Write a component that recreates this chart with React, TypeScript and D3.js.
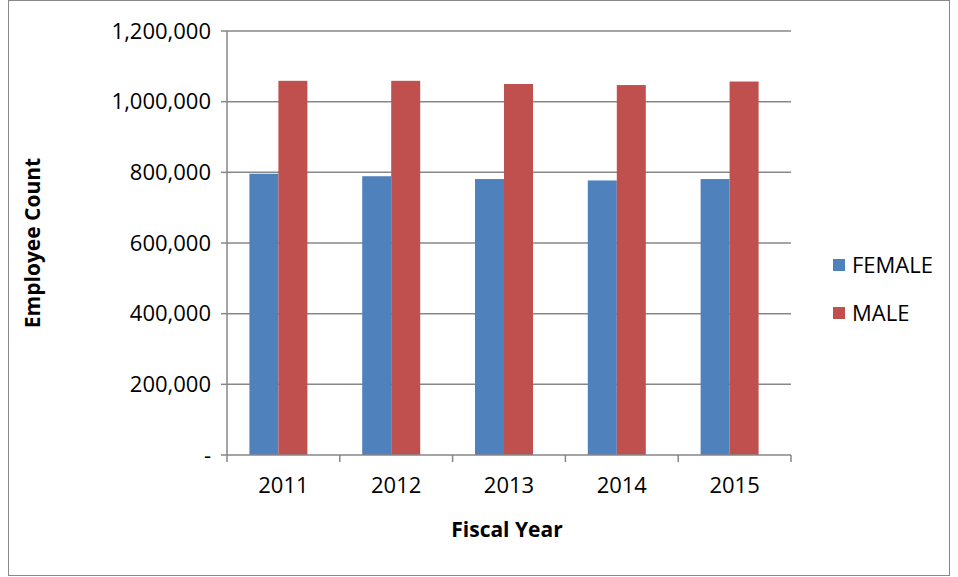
import React from "react";
import * as d3 from "d3";

const years = ["2011", "2012", "2013", "2014", "2015"];
const female = [796000, 789000, 781000, 777000, 781000];
const male = [1059000, 1059000, 1050000, 1047000, 1057000];
const seriesNames = ["FEMALE", "MALE"];
const colors = ["#4f81bd", "#c0504d"];
const yTicks = [0, 200000, 400000, 600000, 800000, 1000000, 1200000];

const W = 958;
const H = 577;
const left = 227;
const right = 791;
const top = 31;
const bottom = 455;
const font = "'Open Sans', Lato, sans-serif";
const fs = 22;

export default function App() {
  const x = d3.scaleBand().domain(years).range([left, right]);
  const y = d3.scaleLinear().domain([0, 1200000]).range([bottom, top]);
  const bw = 29;
  const fmt = d3.format(",");
  return (
    <svg width={W} height={H} style={{ position: "absolute", left: 0, top: 0 }}>
      <rect x={8.5} y={0.5} width={941} height={575} fill="#fff" stroke="#888" />
      {yTicks.map(t => (
        <g key={t}>
          {t > 0 && <line x1={left} x2={right} y1={y(t)} y2={y(t)} stroke="#878787" strokeWidth={1.5} />}
          <line x1={left - 6} x2={left} y1={y(t)} y2={y(t)} stroke="#878787" strokeWidth={1.5} />
          <text x={left - 16} y={y(t)} dy="0.35em" textAnchor="end" fontFamily={font} fontSize={fs}>
            {t === 0 ? "-" : fmt(t)}
          </text>
        </g>
      ))}
      {years.map((yr, i) => {
        const c = (x(yr) as number) + x.bandwidth() / 2 - 5;
        return (
          <g key={yr}>
            <rect x={c - bw} y={y(female[i])} width={bw} height={bottom - y(female[i])} fill={colors[0]} />
            <rect x={c} y={y(male[i])} width={bw} height={bottom - y(male[i])} fill={colors[1]} />
            <text x={(x(yr) as number) + x.bandwidth() / 2} y={bottom + 38} textAnchor="middle" fontFamily={font} fontSize={fs}>
              {yr}
            </text>
          </g>
        );
      })}
      {[...years.map(yr => x(yr) as number), right].map((v, i) => (
        <line key={i} x1={v} x2={v} y1={bottom} y2={bottom + 7} stroke="#878787" strokeWidth={1.5} />
      ))}
      <line x1={left} x2={left} y1={top} y2={bottom} stroke="#878787" strokeWidth={1.5} />
      <line x1={left} x2={right} y1={bottom} y2={bottom} stroke="#878787" strokeWidth={1.5} />
      <text x={(left + right) / 2 - 2} y={537} textAnchor="middle" fontFamily={font} fontSize={fs - 1} fontWeight="bold">
        Fiscal Year
      </text>
      <text transform={`translate(40,${(top + bottom) / 2}) rotate(-90)`} textAnchor="middle" fontFamily={font} fontSize={fs - 1} fontWeight="bold">
        Employee Count
      </text>
      {seriesNames.map((n, i) => (
        <g key={n} transform={`translate(833,${265 + i * 48})`}>
          <rect x={0} y={-6} width={12} height={12} fill={colors[i]} />
          <text x={19} dy="0.35em" fontFamily={font} fontSize={fs}>{n}</text>
        </g>
      ))}
    </svg>
  );
}
